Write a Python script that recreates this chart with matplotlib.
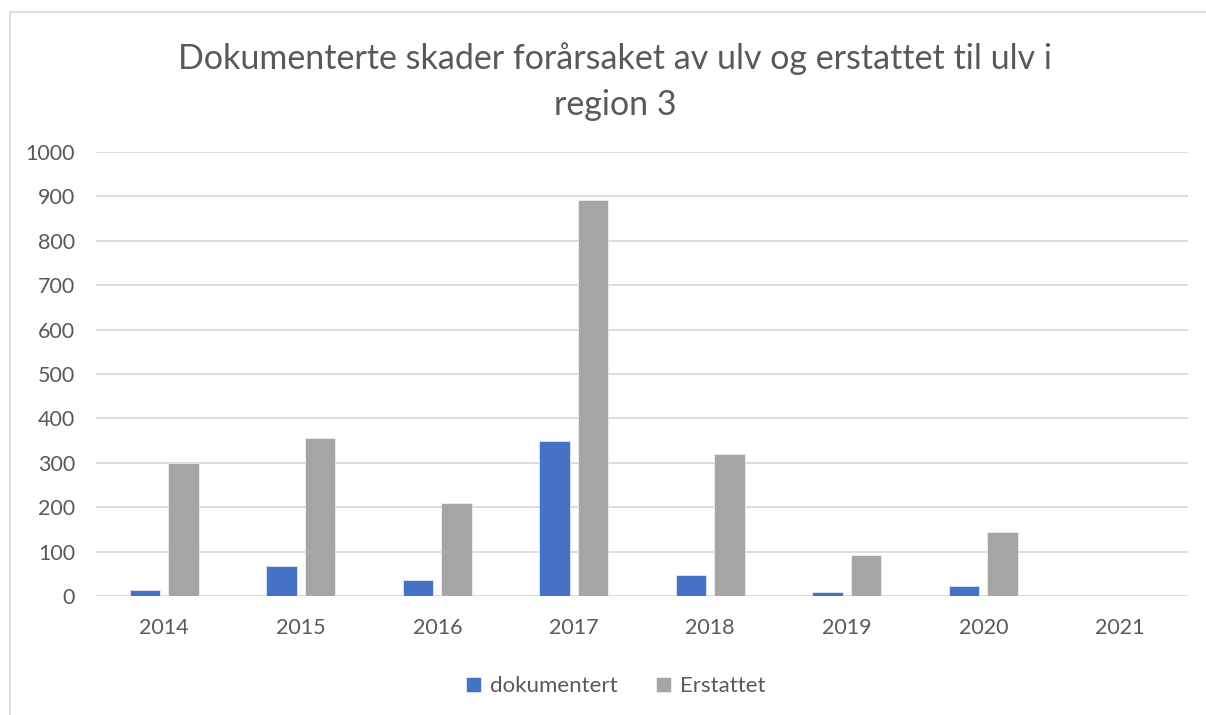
import matplotlib
matplotlib.use("Agg")
import matplotlib.pyplot as plt
from matplotlib.lines import Line2D
import numpy as np

years = ["2014", "2015", "2016", "2017", "2018", "2019", "2020", "2021"]
dokumentert = [14, 67, 35, 348, 47, 10, 22, 0]
erstattet = [300, 356, 210, 892, 320, 92, 144, 0]
yticks = [0, 100, 200, 300, 400, 500, 600, 700, 800, 900, 1000]

title = "Dokumenterte skader forårsaket av ulv og erstattet til ulv i\nregion 3"
text_color = "#595959"
grid_color = "#D9D9D9"
blue = "#4472C4"
grey = "#A5A5A5"

plt.rcParams["font.family"] = ["Lato", "DejaVu Sans"]

fig = plt.figure(figsize=(12.06, 7.15), dpi=100)
W, H = 1206, 715
ax = fig.add_axes([96 / W, 1 - 596 / H, (1188 - 96) / W, (596 - 152) / H])

x = np.arange(len(years))
bw = 0.223
off = (bw + 0.06) / 2
ax.bar(x - off, dokumentert, bw, color=blue, label="dokumentert", zorder=3,
       edgecolor="white", linewidth=0.4)
ax.bar(x + off, erstattet, bw, color=grey, label="Erstattet", zorder=3,
       edgecolor="white", linewidth=0.4)

ax.set_xlim(-0.5, len(years) - 0.5)
ax.set_ylim(0, 1000)
ax.set_yticks(yticks)
ax.set_xticks(x)
ax.set_xticklabels(years)
ax.tick_params(axis="both", length=0, colors=text_color, labelsize=15.5)
ax.tick_params(axis="y", pad=15)
ax.tick_params(axis="x", pad=16)
ax.grid(axis="y", color=grid_color, linewidth=1.3, zorder=0)
for s in ax.spines.values():
    s.set_visible(False)

fig.text(615 / W, 1 - 81.5 / H, title, ha="center", va="center",
         fontsize=24.5, color=text_color, linespacing=1.55)

ax.legend(loc="center", bbox_to_anchor=(0.476, -0.203), ncol=2, frameon=False,
          fontsize=16, labelcolor=text_color, handlelength=0.7,
          handleheight=0.7, handletextpad=0.4, columnspacing=1.7)

# chart area border (partly cropped)
fig.add_artist(Line2D([10 / W, 10 / W], [1 - 12 / H, 0], color=grid_color, lw=1.2))
fig.add_artist(Line2D([10 / W, 1], [1 - 12 / H, 1 - 12 / H], color=grid_color, lw=1.2))

fig.savefig("out.png", dpi=100, facecolor="white")
